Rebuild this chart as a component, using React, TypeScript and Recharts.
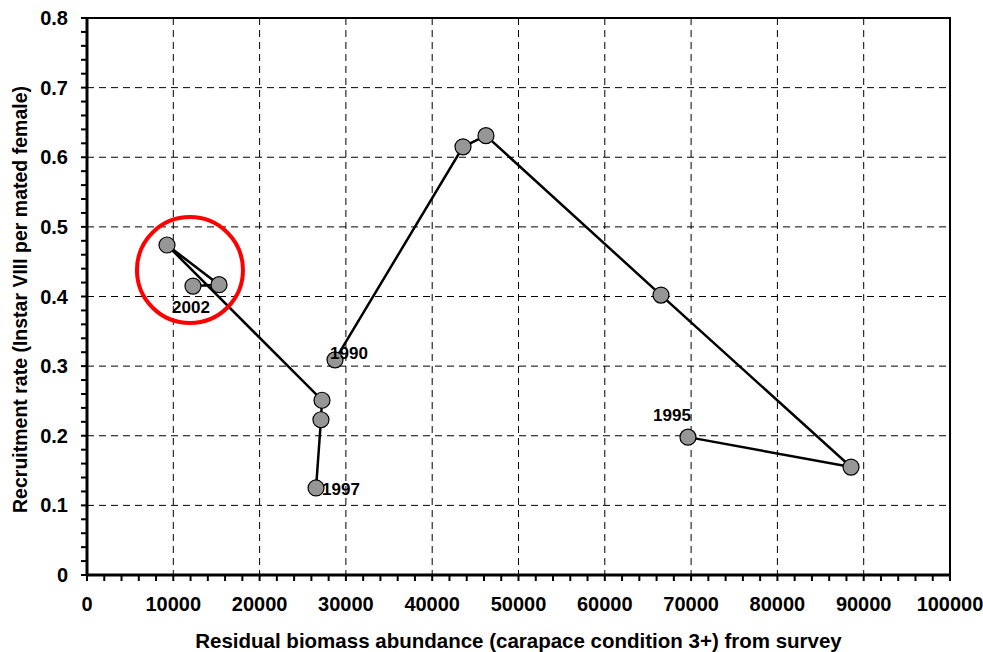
import {
  ScatterChart,
  Scatter,
  XAxis,
  YAxis,
  CartesianGrid,
  ReferenceArea,
  ReferenceDot,
  LabelList,
} from "recharts";

// Survey years, residual biomass (x) and recruitment rate (y)
const years = [1990, 1991, 1992, 1993, 1994, 1995, 1997, 1998, 1999, 2000, 2001, 2002];
const biomass = [28740, 43570, 46230, 66510, 88530, 69640, 26540, 27110, 27230, 9270, 15300, 12280];
const recruitment = [0.309, 0.615, 0.631, 0.402, 0.155, 0.198, 0.125, 0.223, 0.251, 0.474, 0.417, 0.415];

// only these years carry a text label
const labelledYears = [1990, 1995, 1997, 2002];

const xMajorTicks = [0, 10000, 20000, 30000, 40000, 50000, 60000, 70000, 80000, 90000, 100000];
const yMajorTicks = [0, 0.1, 0.2, 0.3, 0.4, 0.5, 0.6, 0.7, 0.8];

// minor ticks: 5 per major interval
const xTicks = xMajorTicks.flatMap((t, i) =>
  i === xMajorTicks.length - 1 ? [t] : [0, 1, 2, 3, 4].map((k) => t + k * 2000)
);
const yTicks = yMajorTicks.flatMap((t, i) =>
  i === yMajorTicks.length - 1 ? [t] : [0, 1, 2, 3, 4].map((k) => Math.round((t + k * 0.02) * 100) / 100)
);

const points = years.map((year, i) => ({
  year,
  x: biomass[i],
  y: recruitment[i],
  label: labelledYears.includes(year) ? String(year) : "",
}));
const firstRun = points.filter((p) => p.year <= 1995);
const secondRun = points.filter((p) => p.year >= 1997);

// where each year label sits relative to its marker
const labelPlacement: Record<string, { dx: number; dy: number; anchor: string }> = {
  "1990": { dx: -5, dy: -1, anchor: "start" },
  "1995": { dx: -16, dy: -16, anchor: "middle" },
  "1997": { dx: 6, dy: 7, anchor: "start" },
  "2002": { dx: -2, dy: 27, anchor: "middle" },
};

const FONT = "'Liberation Sans', Arial, Helvetica, sans-serif";
const TICK_FONT = 20;
const TICK_SIZE = 6;
const Y_TICK_MARGIN = 14;

function YearLabel(props: any) {
  const { x, y, width, height, value } = props;
  if (!value) return null;
  const p = labelPlacement[value];
  const cx = x + (width || 0) / 2;
  const cy = y + (height || 0) / 2;
  return (
    <text
      x={cx + p.dx}
      y={cy + p.dy}
      textAnchor={p.anchor}
      fontFamily={FONT}
      fontWeight="bold"
      fontSize={17}
      fill="#000"
    >
      {value}
    </text>
  );
}

const Marker = (props: any) => (
  <circle cx={props.cx} cy={props.cy} r={8} fill="#969696" stroke="#000" strokeWidth={1.2} />
);

// tick mark on every minor step, text only on the majors
function XTick(props: any) {
  const { x, y, payload } = props;
  const v = payload.value;
  return (
    <g>
      <line x1={x} x2={x} y1={y - 22} y2={y - 16} stroke="#000" strokeWidth={2} />
      {v % 10000 === 0 && (
        <text
          x={x}
          y={y + 14}
          textAnchor="middle"
          fontFamily={FONT}
          fontWeight="bold"
          fontSize={TICK_FONT}
          fill="#000"
        >
          {v}
        </text>
      )}
    </g>
  );
}

function YTick(props: any) {
  const { x, y, payload } = props;
  const v = payload.value;
  return (
    <g>
      <line
        x1={x + Y_TICK_MARGIN}
        x2={x + Y_TICK_MARGIN + TICK_SIZE}
        y1={y}
        y2={y}
        stroke="#000"
        strokeWidth={2}
      />
      {yMajorTicks.includes(v) && (
        <text
          x={x + 1}
          y={y + 7}
          textAnchor="end"
          fontFamily={FONT}
          fontWeight="bold"
          fontSize={TICK_FONT}
          fill="#000"
        >
          {v}
        </text>
      )}
    </g>
  );
}

function XTitle(props: any) {
  const vb = props.viewBox;
  return (
    <text
      x={vb.x + vb.width / 2}
      y={648}
      textAnchor="middle"
      fontFamily={FONT}
      fontWeight="bold"
      fontSize={20.5}
      fill="#000"
    >
      Residual biomass abundance (carapace condition 3+) from survey
    </text>
  );
}

function YTitle(props: any) {
  const vb = props.viewBox;
  const cy = vb.y + vb.height / 2 + 3;
  return (
    <text
      x={27}
      y={cy}
      transform={`rotate(-90, 27, ${cy})`}
      textAnchor="middle"
      fontFamily={FONT}
      fontWeight="bold"
      fontSize={19.5}
      fill="#000"
    >
      Recruitment rate (Instar VIII per mated female)
    </text>
  );
}

export default function App() {
  return (
    <div style={{ position: "absolute", left: 0, top: 0, background: "#fff" }}>
      <ScatterChart
        width={983}
        height={652}
        margin={{ top: 18, right: 33, bottom: 0, left: 0 }}
      >
        <CartesianGrid
          stroke="#000"
          strokeDasharray="7 5"
          strokeWidth={1}
          horizontalValues={yMajorTicks}
          verticalValues={xMajorTicks}
        />
        <XAxis
          type="number"
          dataKey="x"
          domain={[0, 100000]}
          ticks={xTicks}
          interval={0}
          height={77}
          tickSize={TICK_SIZE}
          tickMargin={16}
          axisLine={{ stroke: "#000", strokeWidth: 3 }}
          tickLine={false}
          tick={<XTick />}
          label={<XTitle />}
        />
        <YAxis
          type="number"
          dataKey="y"
          domain={[0, 0.8]}
          ticks={yTicks}
          interval={0}
          width={87}
          tickSize={TICK_SIZE}
          tickMargin={Y_TICK_MARGIN}
          axisLine={{ stroke: "#000", strokeWidth: 3 }}
          tickLine={false}
          tick={<YTick />}
          label={<YTitle />}
        />
        <ReferenceArea
          x1={0}
          x2={100000}
          y1={0}
          y2={0.8}
          fill="none"
          stroke="#000"
          strokeWidth={2}
        />
        <Scatter
          data={firstRun}
          line={{ stroke: "#000", strokeWidth: 2.5 }}
          lineType="joint"
          shape={Marker}
          isAnimationActive={false}
        >
          <LabelList dataKey="label" content={YearLabel} />
        </Scatter>
        <Scatter
          data={secondRun}
          line={{ stroke: "#000", strokeWidth: 2.5 }}
          lineType="joint"
          shape={Marker}
          isAnimationActive={false}
        >
          <LabelList dataKey="label" content={YearLabel} />
        </Scatter>
        {/* highlight ring around the recent years */}
        <ReferenceDot
          x={11930}
          y={0.438}
          r={53}
          fill="none"
          stroke="#ff0000"
          strokeWidth={4}
          ifOverflow="visible"
        />
      </ScatterChart>
    </div>
  );
}
